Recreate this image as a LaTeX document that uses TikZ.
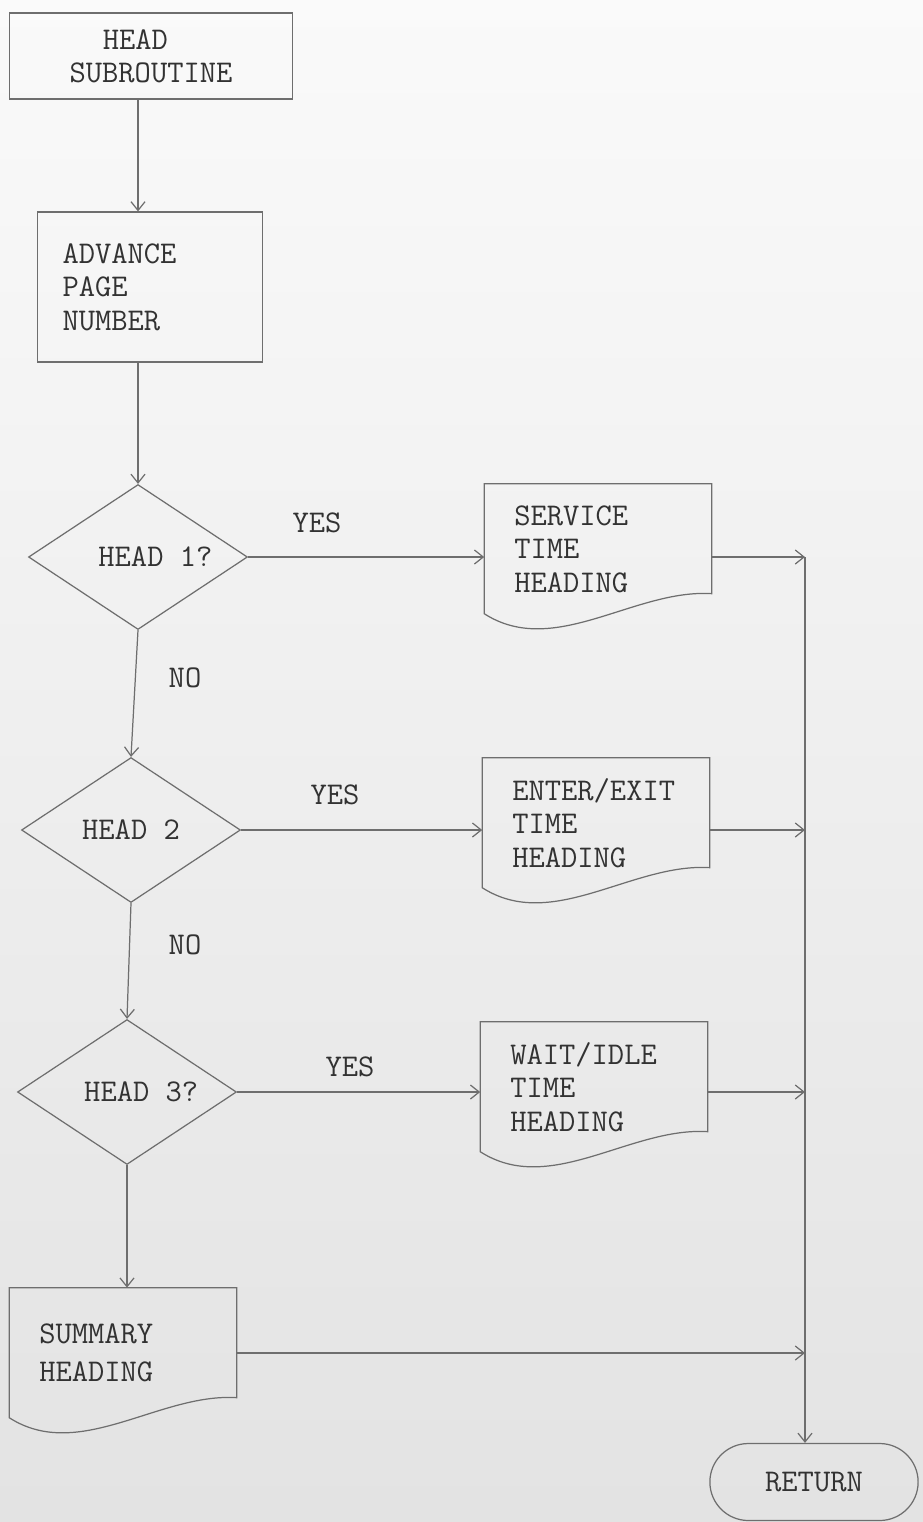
\documentclass[tikz,border=0pt]{standalone}
\usepackage{fontspec}
\usetikzlibrary{arrows.meta,calc,shapes.geometric,shapes.misc}
\definecolor{colLINE}{RGB}{110,110,110}
\definecolor{colTEXT}{RGB}{50,50,50}
% document symbol: flat top, wavy bottom (node is the box down to the left corner)
\newcommand{\docoutline}[1]{%
  \draw[flow] (#1.north west) -- (#1.north east) -- ($(#1.north east)+(0,110)$)
    .. controls ($(#1.north west)+(150,105)$) and ($(#1.north west)+(70,175)$) .. ($(#1.north west)+(0,130)$) -- cycle;}

\begin{document}
\begin{tikzpicture}[x=0.02cm, y=-0.02cm,
    every node/.style={font=\ttfamily\fontsize{18}{19}\selectfont, text=colTEXT},
    flow/.style={draw=colLINE, line width=0.7pt},
    flowarrow/.style={flow, -{Straight Barb[length=5pt,width=8pt]}},
    procbox/.style={flow, rectangle, minimum width=4.5cm, minimum height=3cm, text width=3.5cm, align=left},
    decision/.style={flow, diamond, aspect=1.5, inner sep=0pt, minimum width=4.38cm, minimum height=2.9cm},
    docbox/.style={rectangle, minimum width=4.54cm, minimum height=2.6cm, text width=3.35cm, align=left},
    endbox/.style={flow, rounded rectangle, minimum width=4.4cm, minimum height=1.54cm}]
  \useasboundingbox (0,0) rectangle (923,1522);
  % paper
  \shade[top color=black!2, bottom color=black!11] (0,0) rectangle (923,1522);

  % main column
  \node[flow, rectangle, minimum width=5.66cm, minimum height=1.72cm, align=left] (head) at (151,56) {\hspace*{1.05em}HEAD\\SUBROUTINE};
  \node[procbox] (adv) at (150,287) {ADVANCE\\PAGE\\NUMBER};
  \node[decision] (d1) at (138,557) {\hspace*{1.1em}HEAD 1?};
  \node[decision] (d2) at (131,830) {HEAD 2};
  \node[decision] (d3) at (127,1092) {\hspace*{0.9em}HEAD 3?};
  \node[docbox] (summ) at (123,1353) {SUMMARY\\[0.1cm]HEADING};
  \docoutline{summ}

  % headings
  \node[docbox] (serv) at (598,549) {SERVICE\\TIME\\HEADING};
  \node[docbox] (entr) at (596,823) {ENTER/EXIT\\TIME\\HEADING};
  \node[docbox] (wait) at (594,1087) {WAIT/IDLE\\TIME\\HEADING};
  \docoutline{serv}
  \docoutline{entr}
  \docoutline{wait}

  \node[endbox] (ret) at (814,1482) {RETURN};
  \coordinate (join) at (805,557);

  % labels
  \node (yes1) at (317,523) {YES};
  \node (yes2) at (335,795) {YES};
  \node (yes3) at (350,1067) {YES};
  \node (no1) at (185,678) {NO};
  \node (no2) at (185,945) {NO};

  % connectors
  \draw[flowarrow] (head.south -| d1.north) -- (adv.north -| d1.north);
  \draw[flowarrow] (adv.south -| d1.north) -- (d1.north);
  \draw[flowarrow] (d1.south) -- (d2.north);
  \draw[flowarrow] (d2.south) -- (d3.north);
  \draw[flowarrow] (d3.south) -- (d3.south |- summ.north);
  \draw[flowarrow] (d1.east) -- (d1.east -| serv.west);
  \draw[flowarrow] (d2.east) -- (d2.east -| entr.west);
  \draw[flowarrow] (d3.east) -- (d3.east -| wait.west);
  \draw[flowarrow] (d1.east -| serv.east) -- (d1.east -| join);
  \draw[flowarrow] (d2.east -| entr.east) -- (d2.east -| join);
  \draw[flowarrow] (d3.east -| wait.east) -- (d3.east -| join);
  \draw[flowarrow] (summ.east) -- (summ.east -| join);
  \draw[flowarrow] (join) -- (join |- ret.north);
\end{tikzpicture}
\end{document}
